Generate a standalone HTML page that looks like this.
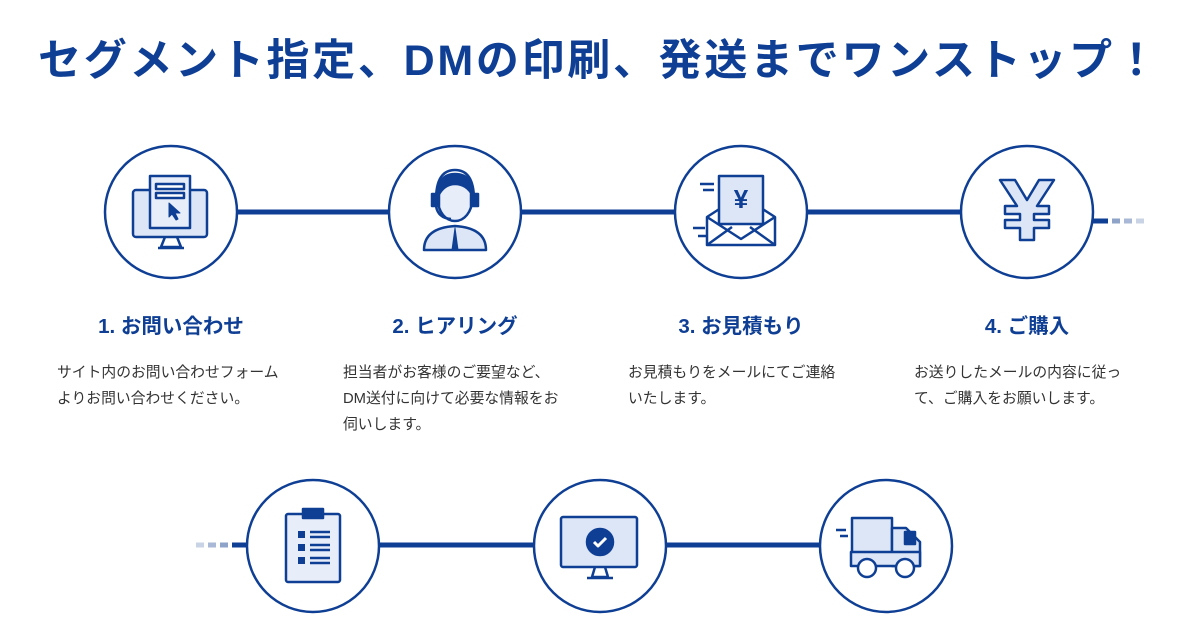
<!DOCTYPE html>
<html><head><meta charset="utf-8"><style>
body{margin:0;width:1200px;height:628px;background:#fff;overflow:hidden;position:relative;font-family:"Liberation Sans","Noto Sans CJK JP",sans-serif;color:#0f3f94}
.t{position:absolute;left:38px;top:26px;font-size:43px;font-weight:bold;letter-spacing:2.7px;white-space:nowrap}
.h{position:absolute;width:260px;text-align:center;font-size:20.5px;font-weight:bold;top:309px}
.d{position:absolute;font-size:14.8px;line-height:26px;color:#333;top:360px;white-space:nowrap}
svg{position:absolute;left:0;top:0}
</style></head><body>
<div class="t">セグメント指定、DMの印刷、発送までワンストップ！</div>
<svg width="1200" height="628" viewBox="0 0 1200 628">
<g stroke="#0f3f94" fill="none">
<line x1="237" y1="212" x2="960" y2="212" stroke-width="5"/>
<line x1="1093" y1="221" x2="1108" y2="221" stroke-width="5"/>
<line x1="1112" y1="221" x2="1120" y2="221" stroke-width="5" stroke="#8fa3c8"/>
<line x1="1124" y1="221" x2="1132" y2="221" stroke-width="5" stroke="#a8b8d6"/>
<line x1="1136" y1="221" x2="1144" y2="221" stroke-width="5" stroke="#c8d3e6"/>
<line x1="232" y1="545" x2="247" y2="545" stroke-width="5"/>
<line x1="220" y1="545" x2="228" y2="545" stroke-width="5" stroke="#8fa3c8"/>
<line x1="208" y1="545" x2="216" y2="545" stroke-width="5" stroke="#a8b8d6"/>
<line x1="196" y1="545" x2="204" y2="545" stroke-width="5" stroke="#c8d3e6"/>
<line x1="380" y1="545" x2="820" y2="545" stroke-width="5"/>
</g>
<g fill="#fff" stroke="#0f3f94" stroke-width="2.5">
<circle cx="171" cy="212" r="66"/><circle cx="455" cy="212" r="66"/><circle cx="741" cy="212" r="66"/><circle cx="1027" cy="212" r="66"/>
<circle cx="313" cy="546" r="66"/><circle cx="600" cy="546" r="66"/><circle cx="886" cy="546" r="66"/>
</g>
<g stroke="#0f3f94" stroke-width="2.5" fill="#dce6f6" stroke-linejoin="round">
<rect x="133" y="190" width="74" height="47" rx="3"/>
<path d="M165 237 l-4 10 h20 l-4 -10 M158 248 h26" fill="none"/>
<rect x="150" y="176" width="40" height="52" fill="#e8eef9"/>
<rect x="156" y="184" width="28" height="5" fill="#fff"/><rect x="156" y="193" width="28" height="5" fill="#fff"/>
<path d="M169 203 l0 14 l3 -3 l4 6 l2 -1 l-3 -6 h5z" fill="#0f3f94" stroke-width="1"/>
<path d="M424 250 q0 -22 31 -24 q31 2 31 24z"/>
<ellipse cx="455" cy="200" rx="17" ry="21" fill="#e8eef9"/>
<path d="M438 196 q0 -22 17 -22 q18 0 18 22 q-6 -12 -18 -12 q-11 0 -17 12z" fill="#0f3f94"/>
<path d="M436 200 q0 -30 19 -30 q19 0 19 30" fill="none"/>
<rect x="432" y="194" width="7" height="12" fill="#0f3f94"/><rect x="471" y="194" width="7" height="12" fill="#0f3f94"/>
<path d="M436 206 q2 12 15 13" fill="none"/>
<path d="M455 228 l-3 22 h6z" fill="#0f3f94" stroke-width="1"/>
<path d="M707 217 l34 -22 l34 22 v28 h-68z" fill="#fff"/>
<rect x="719" y="176" width="44" height="48" fill="#dce6f6"/>
<path d="M707 217 l34 22 l34 -22 M707 245 l25 -18 M775 245 l-25 -18" fill="none"/>
<text x="741" y="208" text-anchor="middle" font-size="26" font-weight="bold" fill="#0f3f94" stroke="none">¥</text>
<path d="M700 184 h14 M703 190 h11 M693 228 h12 M698 236 h10" fill="none"/>
<path d="M1000 180 h15 l12 20 l12 -20 h15 l-17 26 h12 v8 h-15 v6 h15 v8 h-15 v12 h-14 v-12 h-15 v-8 h15 v-6 h-15 v-8 h12z"/>
<rect x="286" y="514" width="54" height="68" rx="2" fill="#e8eef9"/>
<rect x="303" y="509" width="20" height="9" fill="#0f3f94"/>
<rect x="298" y="531" width="7" height="7" fill="#0f3f94" stroke="none"/><rect x="298" y="544" width="7" height="7" fill="#0f3f94" stroke="none"/><rect x="298" y="557" width="7" height="7" fill="#0f3f94" stroke="none"/>
<path d="M310 532 h20 M310 537 h20 M310 545 h20 M310 550 h20 M310 558 h20 M310 563 h20" fill="none"/>
<rect x="561" y="517" width="76" height="50" rx="2"/>
<path d="M595 567 l-3 10 h16 l-3 -10 M587 578 h26" fill="none"/>
<circle cx="600" cy="542" r="13" fill="#0f3f94"/>
<path d="M594 542 l4 4 l8 -8" stroke="#fff" stroke-width="3" fill="none"/>
<rect x="852" y="518" width="40" height="36"/>
<path d="M892 528 h14 l14 14 v24 h-28z"/>
<rect x="851" y="552" width="69" height="14"/>
<rect x="905" y="532" width="10" height="12" fill="#0f3f94"/>
<circle cx="867" cy="568" r="9" fill="#fff"/><circle cx="905" cy="568" r="9" fill="#fff"/>
<path d="M836 530 h10 M840 536 h8" fill="none"/>
</g>
</svg>
<div class="h" style="left:41px">1. お問い合わせ</div>
<div class="h" style="left:325px">2. ヒアリング</div>
<div class="h" style="left:611px">3. お見積もり</div>
<div class="h" style="left:897px">4. ご購入</div>
<div class="d" style="left:57px">サイト内のお問い合わせフォーム<br>よりお問い合わせください。</div>
<div class="d" style="left:343px">担当者がお客様のご要望など、<br>DM送付に向けて必要な情報をお<br>伺いします。</div>
<div class="d" style="left:628px">お見積もりをメールにてご連絡<br>いたします。</div>
<div class="d" style="left:914px">お送りしたメールの内容に従っ<br>て、ご購入をお願いします。</div>
</body></html>
